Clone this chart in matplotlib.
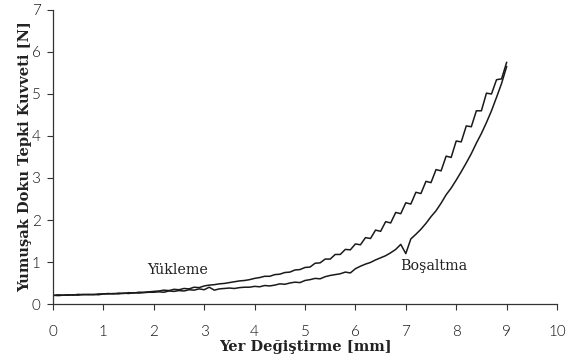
import matplotlib.pyplot as plt
import numpy as np

# Yer degistirme [mm] (0.1 mm adim)
yer_degistirme = [
    0.0, 0.1, 0.2, 0.3, 0.4, 0.5, 0.6, 0.7, 0.8, 0.9,
    1.0, 1.1, 1.2, 1.3, 1.4, 1.5, 1.6, 1.7, 1.8, 1.9,
    2.0, 2.1, 2.2, 2.3, 2.4, 2.5, 2.6, 2.7, 2.8, 2.9,
    3.0, 3.1, 3.2, 3.3, 3.4, 3.5, 3.6, 3.7, 3.8, 3.9,
    4.0, 4.1, 4.2, 4.3, 4.4, 4.5, 4.6, 4.7, 4.8, 4.9,
    5.0, 5.1, 5.2, 5.3, 5.4, 5.5, 5.6, 5.7, 5.8, 5.9,
    6.0, 6.1, 6.2, 6.3, 6.4, 6.5, 6.6, 6.7, 6.8, 6.9,
    7.0, 7.1, 7.2, 7.3, 7.4, 7.5, 7.6, 7.7, 7.8, 7.9,
    8.0, 8.1, 8.2, 8.3, 8.4, 8.5, 8.6, 8.7, 8.8, 8.9,
    9.0,
]

# Yukleme egrisi [N]
yukleme = [
    0.20, 0.22, 0.21, 0.22, 0.21, 0.23, 0.22, 0.23, 0.22, 0.24,
    0.24, 0.25, 0.24, 0.26, 0.25, 0.27, 0.26, 0.28, 0.28, 0.29,
    0.30, 0.31, 0.33, 0.32, 0.35, 0.34, 0.37, 0.36, 0.40, 0.39,
    0.43, 0.45, 0.46, 0.48, 0.49, 0.51, 0.53, 0.55, 0.56, 0.58,
    0.61, 0.63, 0.66, 0.66, 0.70, 0.71, 0.75, 0.76, 0.81, 0.82,
    0.87, 0.88, 0.97, 0.98, 1.07, 1.07, 1.18, 1.18, 1.30, 1.29,
    1.43, 1.41, 1.58, 1.56, 1.76, 1.73, 1.96, 1.93, 2.18, 2.15,
    2.41, 2.38, 2.66, 2.63, 2.92, 2.89, 3.20, 3.17, 3.52, 3.49,
    3.88, 3.86, 4.24, 4.22, 4.60, 4.60, 5.02, 5.00, 5.34, 5.36,
    5.75,
]

# Bosaltma egrisi [N]
bosaltma = [
    0.21, 0.20, 0.21, 0.21, 0.22, 0.21, 0.23, 0.22, 0.23, 0.22,
    0.24, 0.24, 0.25, 0.24, 0.26, 0.25, 0.27, 0.26, 0.27, 0.28,
    0.28, 0.29, 0.28, 0.31, 0.30, 0.32, 0.31, 0.34, 0.33, 0.36,
    0.34, 0.40, 0.33, 0.36, 0.37, 0.38, 0.37, 0.39, 0.40, 0.40,
    0.42, 0.41, 0.44, 0.43, 0.45, 0.48, 0.47, 0.50, 0.52, 0.51,
    0.56, 0.58, 0.61, 0.60, 0.65, 0.68, 0.70, 0.72, 0.76, 0.74,
    0.84, 0.90, 0.95, 0.99, 1.05, 1.10, 1.15, 1.22, 1.30, 1.42,
    1.20, 1.55, 1.66, 1.78, 1.92, 2.08, 2.22, 2.40, 2.60, 2.76,
    2.95, 3.15, 3.36, 3.58, 3.83, 4.06, 4.32, 4.60, 4.92, 5.25,
    5.65,
]

x_ticks = [0, 1, 2, 3, 4, 5, 6, 7, 8, 9, 10]
y_ticks = [0, 1, 2, 3, 4, 5, 6, 7]

fig = plt.figure(figsize=(5.81, 3.63), dpi=100)
ax = fig.add_axes([0.0912, 0.1625, 0.8675, 0.81])

ax.plot(yer_degistirme, yukleme, color="#1a1a1a", linewidth=1.1)
ax.plot(yer_degistirme, bosaltma, color="#1a1a1a", linewidth=1.1)

ax.set_xlim(0, 10)
ax.set_ylim(0, 7)
ax.set_xticks(x_ticks)
ax.set_yticks(y_ticks)

# only left and bottom axis lines
ax.spines["top"].set_visible(False)
ax.spines["right"].set_visible(False)
for side in ["left", "bottom"]:
    ax.spines[side].set_color("#333333")
    ax.spines[side].set_linewidth(0.9)

ax.tick_params(axis="x", direction="out", length=4, width=0.8, color="#333333", pad=11)
ax.tick_params(axis="y", direction="out", length=4, width=0.8, color="#333333", pad=5)
for lab in ax.get_xticklabels() + ax.get_yticklabels():
    lab.set_fontfamily(["Lato", "DejaVu Sans"])
    lab.set_fontweight(300)
    lab.set_fontsize(11)
    lab.set_color("#111111")

label_font = {"family": "DejaVu Serif", "weight": "bold", "size": 10.5, "color": "#222222"}
ax.set_xlabel("Yer Değiştirme [mm]", labelpad=1, **label_font)
ax.set_ylabel("Yumuşak Doku Tepki Kuvveti [N]", labelpad=0, **label_font)

ax.text(2.48, 0.81, "Yükleme", ha="center", va="center",
        family="DejaVu Serif", fontsize=10.3, color="#222222")
ax.text(7.56, 0.90, "Boşaltma", ha="center", va="center",
        family="DejaVu Serif", fontsize=10.3, color="#222222")

fig.savefig("out.png", dpi=100)
